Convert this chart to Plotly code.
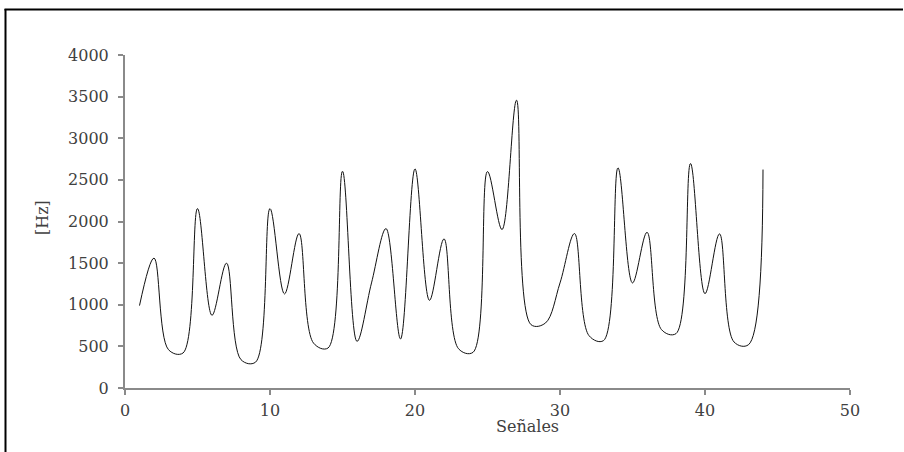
import plotly.graph_objects as go

senales = list(range(1, 45))
hz = [990, 1560, 460, 420, 2155, 873, 1500, 340, 310, 2155,
      1130, 1855, 540, 480, 2603, 560, 1262, 1915, 589, 2632,
      1053, 1791, 472, 428, 2600, 1903, 3457, 761, 781, 1262,
      1855, 629, 569, 2644, 1262, 1870, 701, 653, 2696, 1133,
      1851, 553, 520, 2624]

x_ticks = [0, 10, 20, 30, 40, 50]
y_ticks = [0, 500, 1000, 1500, 2000, 2500, 3000, 3500, 4000]

FONT = "DejaVu Serif"
L, R, T, B = 125, 54, 55, 64
W, H = 904, 452
pw, ph = W - L - R, H - T - B

def px(xp):
    return (xp - L) / pw

def py(yp):
    return (H - B - yp) / ph

fig = go.Figure()
fig.add_trace(go.Scatter(
    x=senales, y=hz, mode="lines",
    line=dict(color="#111111", width=1, shape="spline", smoothing=1),
    showlegend=False, hoverinfo="skip"))

axis_common = dict(showgrid=False, zeroline=False, showline=True,
                   linecolor="#8a8a8a", linewidth=2, ticks="outside",
                   ticklen=5, tickwidth=1.5, tickcolor="#8a8a8a",
                   tickfont=dict(family=FONT, size=16, color="#404040"))

fig.update_xaxes(range=[0, 50], tickvals=x_ticks, ticklabelstandoff=2, **axis_common)
fig.update_yaxes(range=[0, 4000], tickvals=y_ticks, ticklabelstandoff=6, **axis_common)

fig.add_annotation(text="Señales", xref="paper", yref="paper",
                   x=px(527), y=py(426), showarrow=False,
                   font=dict(family=FONT, size=16, color="#404040"),
                   xanchor="center", yanchor="middle")
fig.add_annotation(text="[Hz]", xref="paper", yref="paper",
                   x=px(42), y=py(218), showarrow=False, textangle=-90,
                   font=dict(family=FONT, size=16, color="#404040"),
                   xanchor="center", yanchor="middle")

# chart frame: only top and left edges are visible in the reference
fig.add_shape(type="line", xref="paper", yref="paper",
              x0=px(4.5), x1=px(903), y0=py(9.5), y1=py(9.5),
              line=dict(color="black", width=2), layer="above")
fig.add_shape(type="line", xref="paper", yref="paper",
              x0=px(5.5), x1=px(5.5), y0=py(9), y1=py(452),
              line=dict(color="black", width=2), layer="above")

fig.update_layout(width=W, height=H,
                  margin=dict(l=L, r=R, t=T, b=B),
                  plot_bgcolor="white", paper_bgcolor="white")

fig.write_html("out.html")
